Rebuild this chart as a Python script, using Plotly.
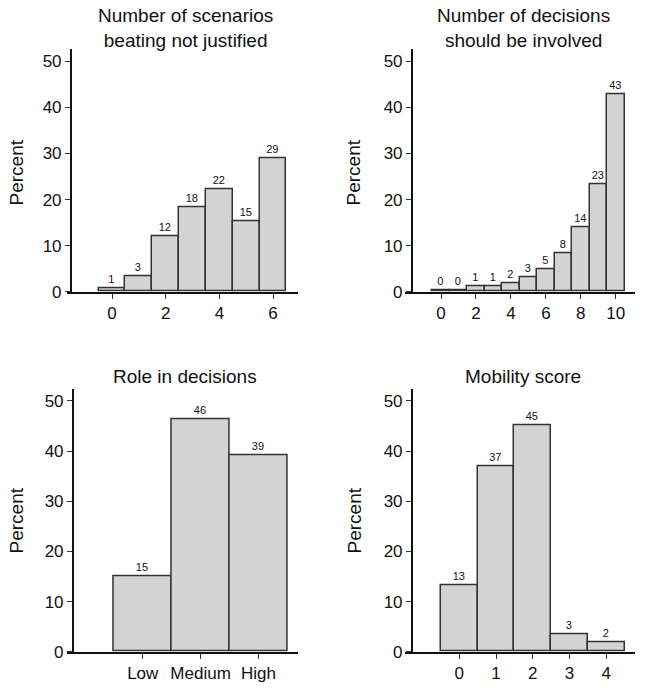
import plotly.graph_objects as go

W, H = 645, 699
FONT = "Liberation Sans, Arial, Helvetica, sans-serif"

# ---- data ----
p1_title = "Number of scenarios<br>beating not justified"
p1_x = [0, 1, 2, 3, 4, 5, 6]
p1_pct = [0.8, 3.4, 12.0, 18.4, 22.3, 15.2, 28.9]
p1_lbl = ["1", "3", "12", "18", "22", "15", "29"]
p1_ticks = [0, 2, 4, 6]
p1_ticktext = ["0", "2", "4", "6"]

p2_title = "Number of decisions<br>should be involved"
p2_x = [0, 1, 2, 3, 4, 5, 6, 7, 8, 9, 10]
p2_pct = [0.4, 0.4, 1.2, 1.2, 1.8, 3.2, 4.8, 8.3, 13.9, 23.3, 42.9]
p2_lbl = ["0", "0", "1", "1", "2", "3", "5", "8", "14", "23", "43"]
p2_ticks = [0, 2, 4, 6, 8, 10]
p2_ticktext = ["0", "2", "4", "6", "8", "10"]

p3_title = "Role in decisions"
p3_x = [0, 1, 2]
p3_pct = [15.1, 46.3, 39.1]
p3_lbl = ["15", "46", "39"]
p3_ticks = [0, 1, 2]
p3_ticktext = ["Low", "Medium", "High"]

p4_title = "Mobility score"
p4_x = [0, 1, 2, 3, 4]
p4_pct = [13.3, 37.0, 45.1, 3.4, 1.9]
p4_lbl = ["13", "37", "45", "3", "2"]
p4_ticks = [0, 1, 2, 3, 4]
p4_ticktext = ["0", "1", "2", "3", "4"]

y_ticks = [0, 10, 20, 30, 40, 50]

# ---- layout geometry (pixels) ----
panels = [
    dict(title=p1_title, x=p1_x, y=p1_pct, lbl=p1_lbl, ticks=p1_ticks, ticktext=p1_ticktext,
         xpx=(67, 298), xr=(-1.677, 6.93), ypx=(50, 296), yr=(0, 52.6), yaxis_px=70.7,
         title_y=28, ylab_x=16, ylab_y=175),
    dict(title=p2_title, x=p2_x, y=p2_pct, lbl=p2_lbl, ticks=p2_ticks, ticktext=p2_ticktext,
         xpx=(405, 635), xr=(-2.06, 11.10), ypx=(50, 296), yr=(0, 52.6), yaxis_px=411.7,
         title_y=28, ylab_x=353, ylab_y=175),
    dict(title=p3_title, x=p3_x, y=p3_pct, lbl=p3_lbl, ticks=p3_ticks, ticktext=p3_ticktext,
         xpx=(66.7, 297.7), xr=(-1.315, 2.68), ypx=(395, 661.3), yr=(0, 52.3), yaxis_px=72.7,
         title_y=382, ylab_x=16, ylab_y=528),
    dict(title=p4_title, x=p4_x, y=p4_pct, lbl=p4_lbl, ticks=p4_ticks, ticktext=p4_ticktext,
         xpx=(405, 635), xr=(-1.478, 4.78), ypx=(395, 661.3), yr=(0, 52.3), yaxis_px=411.7,
         title_y=382, ylab_x=354, ylab_y=528),
]

fig = go.Figure()
layout = dict(
    width=W, height=H, margin=dict(l=0, r=0, t=0, b=0),
    paper_bgcolor="white", plot_bgcolor="white",
    showlegend=False, bargap=0,
    font=dict(family=FONT, color="#111111"),
)
annotations = []

for i, p in enumerate(panels, start=1):
    xa = "x" if i == 1 else f"x{i}"
    ya = "y" if i == 1 else f"y{i}"
    fig.add_trace(go.Bar(
        x=p["x"], y=p["y"], width=1,
        xaxis=xa, yaxis=ya,
        marker=dict(color="#d3d3d3", line=dict(color="#333333", width=1.5)),
        text=p["lbl"], textposition="outside", cliponaxis=False,
        constraintext="none",
        textfont=dict(size=11, color="#111111", family=FONT),
        hoverinfo="skip",
    ))
    xdom = [p["xpx"][0] / W, p["xpx"][1] / W]
    ydom = [1 - p["ypx"][1] / H, 1 - p["ypx"][0] / H]
    layout["xaxis" if i == 1 else f"xaxis{i}"] = dict(
        domain=xdom, range=list(p["xr"]), anchor=ya,
        tickmode="array", tickvals=p["ticks"], ticktext=p["ticktext"],
        ticks="outside", ticklen=5, tickwidth=1, tickcolor="#333333",
        showline=True, linecolor="#111111", linewidth=1.5,
        showgrid=False, zeroline=False,
        tickfont=dict(size=17, family=FONT, color="#111111"),
    )
    layout["yaxis" if i == 1 else f"yaxis{i}"] = dict(
        domain=ydom, range=list(p["yr"]), anchor="free", position=p["yaxis_px"] / W,
        tickmode="array", tickvals=y_ticks,
        ticks="outside", ticklen=5, tickwidth=1, tickcolor="#333333",
        showline=True, linecolor="#111111", linewidth=1.5,
        showgrid=False, zeroline=False,
        tickfont=dict(size=17, family=FONT, color="#111111"),
    )
    cx = (p["xpx"][0] + p["xpx"][1]) / 2 + 3
    annotations.append(dict(
        text=p["title"], x=cx / W, y=1 - p["title_y"] / H, xref="paper", yref="paper",
        xanchor="center", yanchor="middle", showarrow=False,
        font=dict(size=19, family=FONT, color="#111111"),
    ))
    annotations.append(dict(
        text="Percent", x=p["ylab_x"] / W, y=1 - p["ylab_y"] / H, xref="paper", yref="paper",
        xanchor="center", yanchor="middle", showarrow=False, textangle=-90,
        font=dict(size=19, family=FONT, color="#111111"),
    ))

layout["annotations"] = annotations
fig.update_layout(**layout)
fig.write_html(
    "out.html",
    config={"displayModeBar": False},
    post_script="document.body.style.margin='0px';document.body.style.padding='0px';",
)
